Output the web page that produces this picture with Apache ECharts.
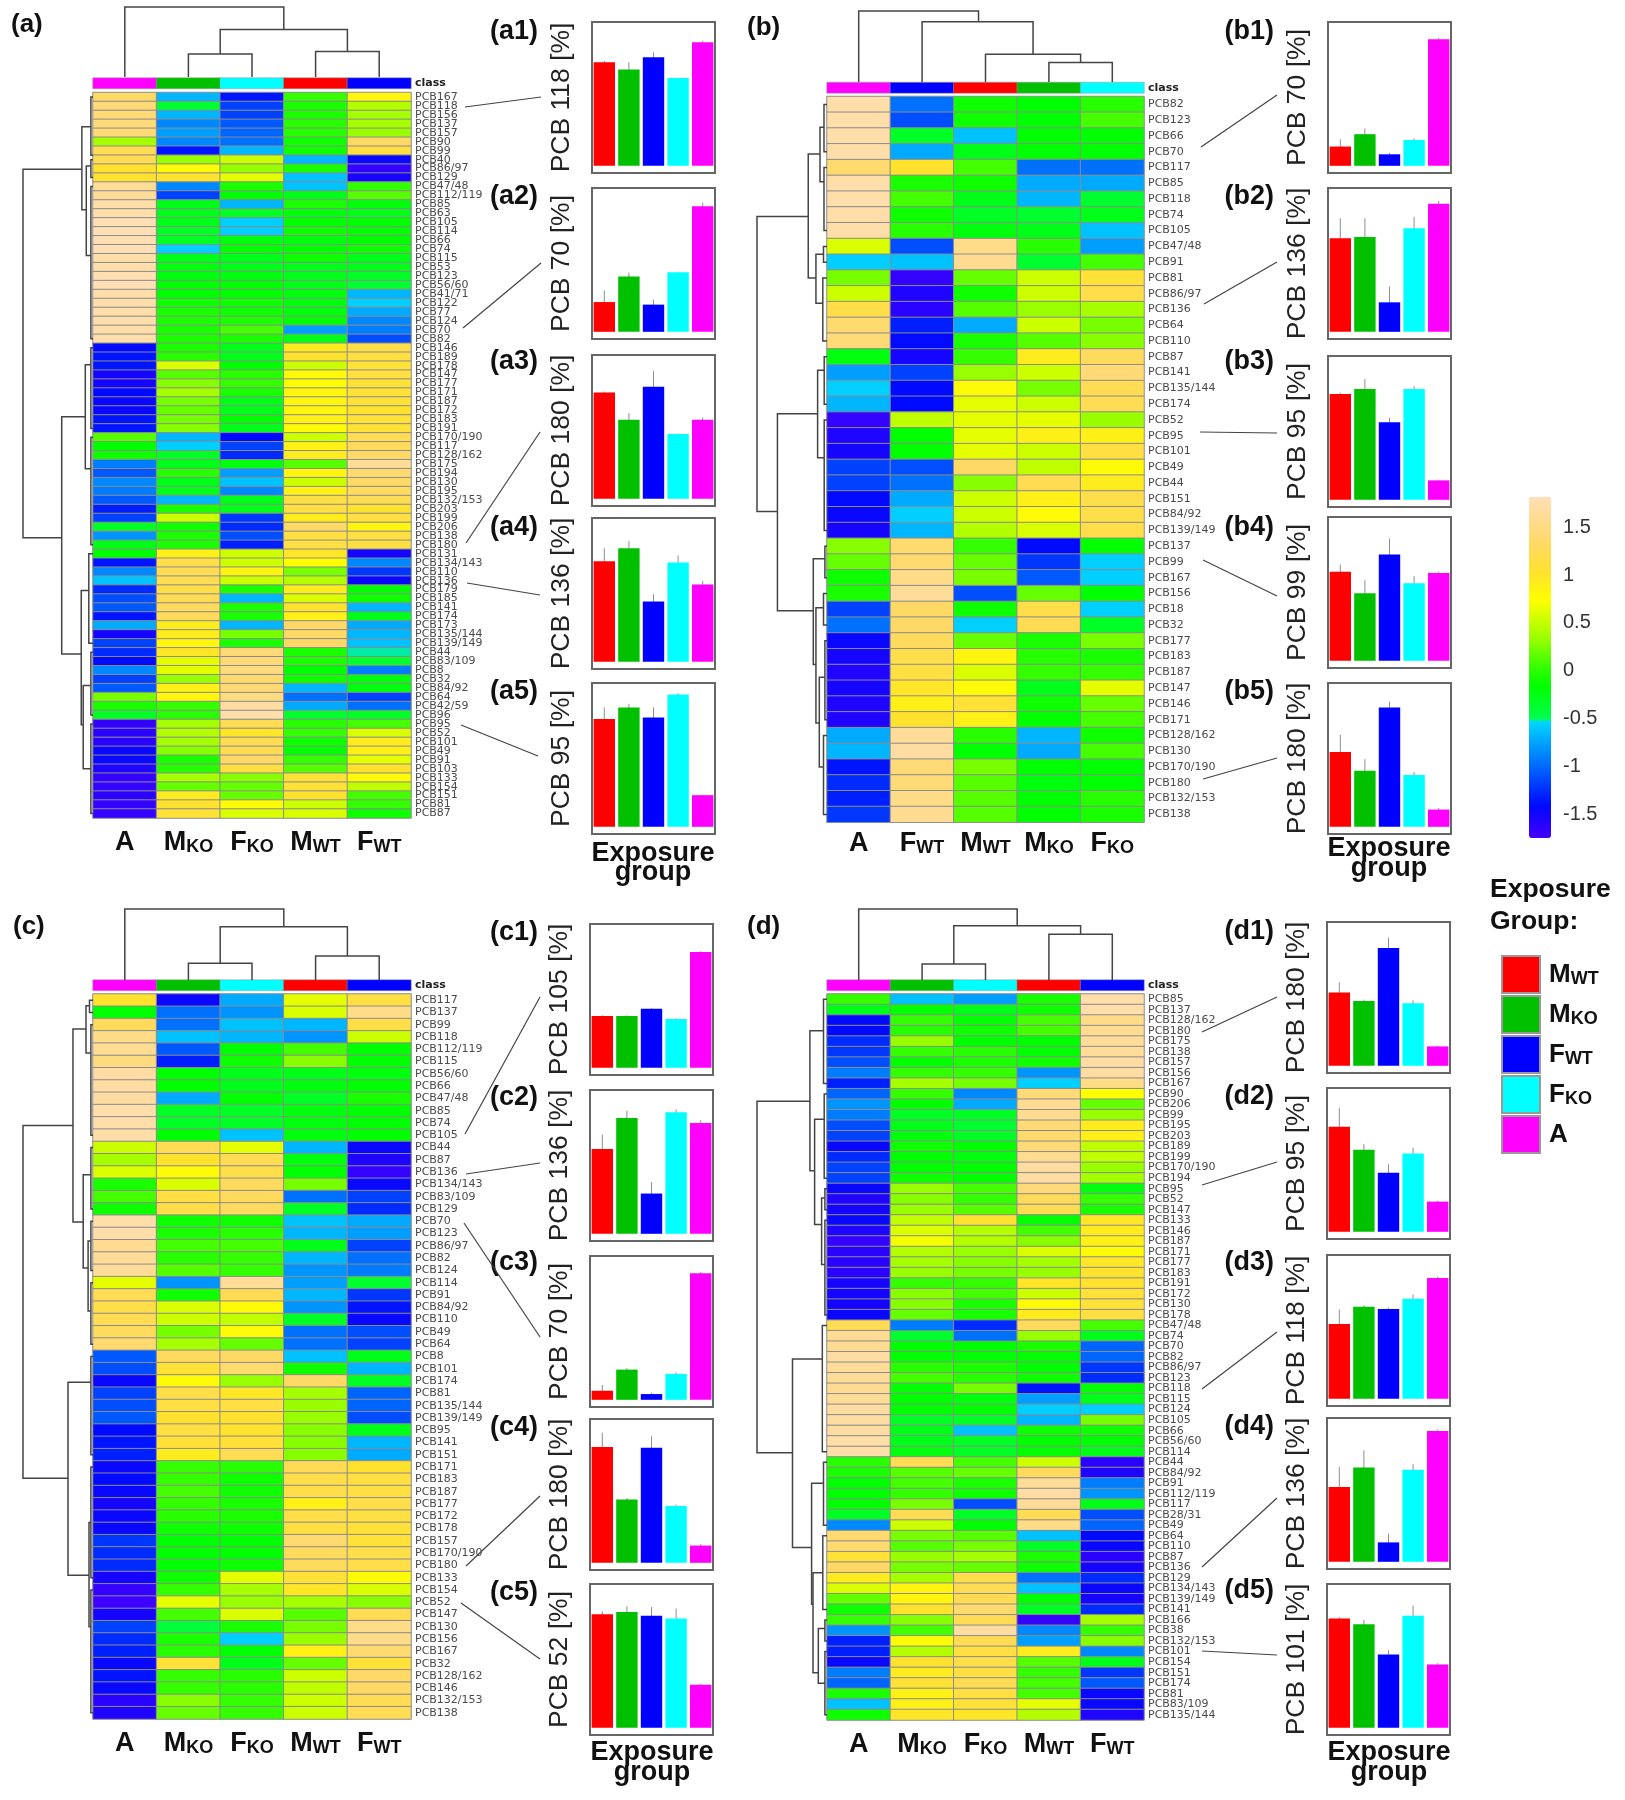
<!DOCTYPE html>
<html><head><meta charset="utf-8">
<style>html,body{margin:0;padding:0;background:#fff}#c{width:1625px;height:1800px}</style>
<script src="https://cdn.jsdelivr.net/npm/echarts@6/dist/echarts.min.js"></script>
</head><body><div id="c"></div>
<script>
// ---------- categories ----------
const barGroups = ['MWT','MKO','FWT','FKO','A'];
const groupColors = {MWT:'#ff0000',MKO:'#00c000',FWT:'#0000ff',FKO:'#00ffff',A:'#ff00ff'};
const colsA = ['A','MKO','FKO','MWT','FWT'];
const colsB = ['A','FWT','MWT','MKO','FKO'];
const colsC = ['A','MKO','FKO','MWT','FWT'];
const colsD = ['A','MKO','FKO','MWT','FWT'];

const rowsA = ['167','118','156','137','157','90','99','40','86/97','129','47/48','112/119','85','63','105','114','66','74','115','53','123','56/60','41/71','122','77','124','70','82','146','189','178','147','177','171','187','172','183','191','170/190','117','128/162','175','194','130','195','132/153','203','199','206','138','180','131','134/143','110','136','179','185','141','174','173','135/144','139/149','44','83/109','8','32','84/92','64','42/59','96','95','52','101','49','91','103','133','154','151','81','87'];
const rowsB = ['82','123','66','70','117','85','118','74','105','47/48','91','81','86/97','136','64','110','87','141','135/144','174','52','95','101','49','44','151','84/92','139/149','137','99','167','156','18','32','177','183','187','147','146','171','128/162','130','170/190','180','132/153','138'];
const rowsC = ['117','137','99','118','112/119','115','56/60','66','47/48','85','74','105','44','87','136','134/143','83/109','129','70','123','86/97','82','124','114','91','84/92','110','49','64','8','101','174','81','135/144','139/149','95','141','151','171','183','187','177','172','178','157','170/190','180','133','154','52','147','130','156','167','32','128/162','146','132/153','138'];
const rowsD = ['85','137','128/162','180','175','138','157','156','167','90','206','99','195','203','189','199','170/190','194','95','52','147','133','146','187','171','177','183','191','172','130','178','47/48','74','70','82','86/97','123','118','115','124','105','66','56/60','114','44','84/92','91','112/119','117','28/31','49','64','110','87','136','129','134/143','139/149','141','166','38','132/153','101','154','151','174','81','83/109','135/144'];

// ---------- heatmap values (row by row, columns as in cols*) ----------
const valuesA = [
[1.3,-.7,-1.4,0,.8],[1.4,-.4,-1.2,-.1,.4],[1.4,-.7,-1.2,-.1,.35],[1.4,-.9,-1.1,-.05,.35],[1.4,-.8,-1.05,-.05,.3],
[.35,-.9,-1,-.15,1.3],[1.2,-1.4,-.7,-.15,1.1],[1.2,.3,.5,-.7,-1.5],[1,.75,.3,-.1,-1.7],[1,1,.6,-.65,-1.55],
[1.6,-.9,-.1,-.65,0],[1.6,-1.2,-.2,-.3,.1],[1.7,-.3,-.7,-.1,-.25],[1.7,-.3,-.35,-.25,-.3],[1.75,-.3,-.6,-.2,-.2],
[1.75,-.35,-.6,-.15,-.2],[1.75,-.35,-.25,-.25,-.2],[1.75,-.6,-.2,-.2,-.15],[1.7,-.3,-.3,-.15,-.3],[1.7,-.25,-.3,-.3,-.3],
[1.75,-.25,-.25,-.3,-.35],[1.75,-.2,-.2,-.3,-.4],[1.7,-.2,-.2,-.25,-.7],[1.7,-.15,-.15,-.25,-.6],[1.7,-.1,-.15,-.25,-.75],
[1.7,-.1,-.1,-.2,-.9],[1.7,-.1,.05,-.8,-.95],[1.7,-.1,-.1,-.3,-1.15],[-1.45,-.1,-.3,.9,1.15],[-1.4,-.05,-.3,1,1.1],
[-1.4,.55,-.2,.5,1.05],[-1.55,.1,-.05,.75,1.1],[-1.55,.25,0,.7,1.05],[-1.45,.35,-.1,.8,1.05],[-1.5,.2,-.3,.8,1.05],
[-1.5,.15,-.3,.8,1],[-1.4,.2,-.2,.85,1.05],[-1.4,.25,-.3,.75,1.05],[.1,-.7,-1.45,.5,1.2],[-.2,-.6,-1.2,.85,1.25],
[-.15,-.35,-1.3,.9,1.3],[-.95,-.3,-.25,.1,1.6],[-1.1,-.05,-.8,.8,1.35],[-.9,-.3,-.65,.5,1.3],[-.95,-.3,-.9,.85,1.25],
[-1.1,-.7,-.3,1.1,1.2],[-1.35,-.1,-.3,1.1,1],[-1.2,.5,-1.25,.9,1.1],[-.35,-.15,-1.3,1.3,.8],[-.85,-.1,-1.15,1.1,1.1],
[-.3,-.1,-1.35,1.1,1.1],[-.2,.85,.5,.95,-1.55],[-1.4,1.15,.5,.7,-.9],[-.9,1.2,.8,.2,-1.25],[-.65,1.2,.5,.4,-1.5],
[-1.3,1.15,-.1,.9,-.2],[-1.15,1.2,-.7,.55,-.15],[-1.1,1.25,-.1,1,-.7],[-1.4,1.25,-.1,.85,-.3],[-.75,.9,-.7,1.3,-.75],
[-1.55,.9,.2,1.3,-.7],[-1.2,.8,-.1,1.3,-.65],[-1.3,.95,1.4,-.1,-.55],[-1.45,.6,1.4,-.1,-.4],[-.9,.6,1.45,-.2,-.95],
[-1.2,.3,1.35,-.15,-.25],[-1.1,.85,1.4,-.7,-.25],[.2,.8,1.45,-1,-1.2],[-.1,0,1.65,-.75,-1],[-.35,-.05,1.7,-.4,-.35],
[-1.7,.35,1.2,-.05,.05],[-1.65,.4,.95,0,.55],[-1.65,.35,1.2,-.15,.9],[-1.5,.25,1.2,-.2,.85],[-1.5,-.1,1.3,0,.6],
[-1.6,-.05,1.1,.1,1],[-1.7,.35,.25,1.05,.75],[-1.7,.15,.15,1.05,.45],[-1.65,.9,.15,1,.05],[-1.7,1,.75,.5,0],[-1.7,1.05,.55,.55,-.15]];
const valuesB = [
[1.7,-1,-.15,-.2,-.05],[1.7,-1.15,-.15,-.2,.05],[1.7,-.35,-.65,-.2,-.2],[1.7,-.75,-.3,-.2,-.2],[1.35,1,.05,-1,-1],
[1.7,-.1,-.15,-.75,-.75],[1.7,.05,-.3,-.7,-.4],[1.7,-.15,-.35,-.4,-.3],[1.7,-.05,-.25,-.3,-.65],[.55,-1.15,1.5,-.05,-.8],
[-.6,-.65,1.55,-.4,.05],[.2,-1.7,.15,.5,1.05],[.5,-1.6,-.15,.5,1.15],[1.15,-1.65,.1,.3,.35],[1.35,-1.35,-.75,.5,.2],
[1.4,-1.45,-.1,.1,.25],[-.25,-1.55,0,.9,1.25],[-.8,-1.2,.3,.5,1.4],[-.6,-1.45,.75,.2,1.2],[-.7,-1.45,.6,.5,1.2],
[-1.7,.45,.6,.6,.3],[-1.6,-.2,.6,.85,.85],[-1.55,-.2,.6,.5,1.1],[-1.2,-1.15,1.3,.45,.75],[-1.2,-1,.25,1.2,.9],
[-1.45,-.75,.5,.85,1.15],[-1.5,-.6,.5,.75,1.15],[-1.55,-.7,.4,.55,1.15],[.25,1.35,0,-1.45,-.2],[.15,1.35,.15,-1.25,-.6],
[-.15,1.5,.2,-1.1,-.6],[-.1,1.6,-1.15,.15,-.2],[-1.2,1.3,-.15,1.15,-.6],[-1,1.3,-.6,1.2,-.35],[-1.5,1.25,.15,-.1,.2],
[-1.55,1.15,.8,-.05,-.1],[-1.6,1.1,.55,0,0],[-1.55,.95,.75,-.3,.6],[-1.6,.85,1.05,-.15,.15],[-1.6,1,.85,-.2,.05],
[-.75,1.6,-.05,-.7,-.15],[-.7,1.65,-.2,-.75,.05],[-1.4,1.4,.2,-.2,-.2],[-1.3,1.4,.1,-.25,-.2],[-1.35,1.5,.1,-.2,-.05],[-1.25,1.55,.1,-.2,-.1]];
const valuesC = [
[1,-1.5,-.75,.6,1.1],[-.2,-1,-.85,.55,1.5],[1.25,-1,-.65,-.7,1.15],[1.5,-.65,-.7,-.85,.5],[1.55,-1.1,-.2,.05,-.2],
[1.45,-1.35,-.15,.25,-.2],[1.65,-.2,-.3,-.3,-.25],[1.65,-.2,-.3,-.25,-.2],[1.65,-.75,-.2,-.35,-.1],[1.7,-.35,-.35,-.25,-.2],
[1.7,-.35,-.35,-.25,-.2],[1.7,-.2,-.65,-.25,-.2],[.5,1.2,.6,-.7,-1.5],[.35,1,1.2,-.25,-1.6],[.55,.75,1.15,-.2,-1.7],
[-.1,.55,1.25,.2,-1.5],[.05,1.1,1.25,-1,-1.2],[-.15,1.15,1.25,-.35,-1.3],[1.7,-.15,-.15,-.65,-.75],[1.7,-.1,-.05,-.7,-.8],
[1.55,.05,.05,-.3,-1.2],[1.6,-.05,0,-.7,-1],[1.6,.1,0,-.85,-.95],[.6,-.85,1.6,-.8,-.4],[1.2,-.15,1.2,-.7,-1.25],
[1.15,.55,.75,-.85,-1.4],[1.2,.5,.45,-.35,-1.5],[1.25,.2,.75,-1,-1.15],[1.35,.35,.15,-1,-1.2],[-1.1,1.25,1.3,-.65,-.3],
[-1.15,1.05,1.35,-.15,-.7],[-1.5,.75,.3,1.3,-.35],[-1.2,1.15,.95,.35,-1.05],[-1.15,1.1,1.1,.3,-1.05],[-1.1,1,1,.3,-1.15],
[-1.45,1.1,1,.25,-.3],[-1.4,1.05,1.05,.25,-.7],[-1.35,.9,1.2,.25,-.75],[-1.5,0,-.05,1.2,1],[-1.45,0,-.15,1.15,1.1],
[-1.5,.05,-.15,1.15,1.1],[-1.55,0,-.1,.85,1.15],[-1.5,-.05,-.1,1.15,1.1],[-1.5,-.15,-.15,1.1,1.05],[-1.25,-.2,-.2,1.35,1.05],
[-1.3,-.2,-.2,1.25,1.15],[-1.3,-.2,-.15,1.25,1.15],[-1.55,-.15,.6,1.05,.75],[-1.7,0,.35,.95,.55],[-1.75,.6,.3,.35,.25],
[-1.55,.05,.55,.1,1.2],[-1.2,-.45,-.1,.2,1.5],[-1.3,-.1,-.6,.3,1.5],[-1.35,-.05,-.2,.85,1.35],[-1.5,1.05,-.3,.15,1.05],
[-1.4,0,-.05,.5,1.3],[-1.5,0,-.05,.45,1.3],[-1.65,.25,0,.5,1.2],[-1.6,.15,0,.5,1.2]];
const valuesD = [
[0,-.65,-.8,-.1,1.7],[-.3,-.2,-.3,-.15,1.7],[-1.45,0,-.2,.05,1.5],[-1.45,-.05,-.15,.05,1.55],[-1.3,.3,-.2,-.2,1.6],
[-1.25,0,-.05,-.2,1.6],[-1.15,-.2,-.1,-.15,1.65],[-.95,0,0,-.85,1.65],[-1.35,.35,.2,-.6,1.5],[-1.05,0,-.9,1.4,.7],
[-.85,-.2,-.75,1.55,.15],[-.95,-.35,-.35,1.55,.3],[-1.15,-.3,-.4,1.4,.9],[-1.2,-.25,-.35,1.35,.85],[-1.5,-.15,-.2,1.4,.45],
[-1.3,-.2,-.25,1.55,.45],[-1.2,-.2,-.2,1.65,.3],[-1.2,-.15,-.2,1.65,.35],[-1.5,.3,.05,1.4,-.25],[-1.6,.25,0,1.25,0],
[-1.55,.3,.1,1.2,-.1],[-1.5,.45,1,-.2,.95],[-1.6,.55,.4,.05,.9],[-1.7,.65,.4,.25,.85],[-1.65,.4,.3,.55,.75],
[-1.65,.35,.25,.35,.95],[-1.65,.3,.2,.3,1],[-1.55,0,0,.95,1],[-1.55,.25,.05,.5,1.05],[-1.55,.25,-.1,.75,1.05],
[-1.5,.15,-.1,.9,1.1],[1.2,-.95,-1.3,1.25,.05],[1.55,-.4,-1,.3,-.3],[1.55,-.2,-.2,-.1,-1.05],[1.65,-.2,-.2,-.2,-1.05],
[1.6,-.05,-.1,-.2,-1.25],[1.6,.05,-.05,-.15,-1.3],[1.55,-.2,.2,-1.4,-.2],[1.6,-.2,-.25,-.8,-.3],[1.65,-.2,-.2,-.6,-.6],
[1.65,-.35,-.35,-.7,.2],[1.65,-.3,-.65,-.15,-.15],[1.7,-.3,-.35,-.2,-.2],[1.7,-.25,-.35,-.2,-.3],[-.05,1.2,.05,.5,-1.65],
[-.1,.1,.15,1.25,-1.6],[-.2,.05,-.1,1.6,-.95],[-.2,0,-.15,1.65,-.85],[-.2,.2,-1.15,1.6,-.3],[-.35,1.2,-.35,1.2,-1.15],
[-.9,.5,-.2,1.5,-1.05],[1.35,.2,.1,-.65,-1.45],[1.35,.1,.2,-.35,-1.5],[1.05,.3,.35,-.1,-1.65],[1.3,.2,.15,-.15,-1.55],
[.9,.35,1.15,-1,-1.3],[.55,.8,1.2,-.65,-1.5],[.15,.8,1.2,-.2,-1.55],[-.15,1,1.35,-.35,-1.3],[0,.25,1.2,-1.7,.35],
[-.85,.05,1.65,-.9,0],[-1.35,.75,1.2,-.8,.25],[-1.35,.4,1.1,.9,-.9],[-1.5,1,1.15,.1,-.3],[-.95,.9,1.1,0,-1.25],
[-1.05,1.05,1.2,.05,-1.1],[-.1,.85,1.1,.05,-1.5],[-.65,.85,1.05,.6,-1.5],[-.15,.95,.95,.4,-1.6]];

// ---------- colour scale ----------
const scaleMin = -1.78, scaleMax = 1.78;
const scaleStops = [[-1.78,'#4400ff'],[-1.45,'#0008ff'],[-1,'#0070ff'],[-.56,'#00d8ff'],[-.54,'#00ff50'],[-.2,'#00ff00'],[0,'#33ff00'],[.3,'#99ff00'],[.5,'#ccff00'],[.7,'#ffff00'],[1,'#ffe22e'],[1.3,'#ffd966'],[1.78,'#ffdfb8']];

// ---------- dendrograms: [pos1,height1,pos2,height2,mergeHeight] ----------
const colTreeA = [[1.5,0,2.5,0,.33],[3.5,0,4.5,0,.363],[2,.33,4,.363,.68],[.5,0,3,.68,1]];
const colTreeB = [[3.5,0,4.5,0,.274],[2.5,0,4,.274,.39],[1.5,0,3.25,.39,.85],[.5,0,2.39,.85,1]];
const colTreeC = [[1.5,0,2.5,0,.235],[3.5,0,4.5,0,.338],[2,.235,4,.338,.75],[.5,0,3,.75,1]];
const colTreeD = [[1.5,0,2.5,0,.226],[3.5,0,4.5,0,.646],[2,.226,4,.646,.764],[.5,0,3,.764,1]];
const rowTreeA = [[8.56,.159,49.7,.447,1],[3.83,.03,13.1,.096,.159],[8.2,.03,18.2,.03,.096],[.5,0,7,0,.03],[7.5,0,9.5,0,.03],[10.5,0,27.5,0,.03],
 [36.2,.11,62.7,.168,.447],[30.4,.03,42,.03,.11],[28.5,0,37.5,0,.03],[38.5,0,50.5,0,.03],[55.6,.06,70.6,.14,.168],[51.5,0,61.5,0,.06],[66.2,.03,75.5,.03,.14],[62.5,0,69.5,0,.03],[70.5,0,80.5,0,.03]];
const rowTreeB = [[7.6,.268,26.3,.708,1],[3.64,.1,11.5,.158,.268],[1.95,.043,5.4,.043,.1],[.5,0,3.5,0,.043],[4.5,0,8.5,0,.043],[10,.05,13.1,.06,.158],[9.5,0,10.5,0,.05],[11.5,0,15.5,0,.06],
 [20.1,.134,32.6,.196,.708],[17.35,.04,22.9,.04,.134],[16.5,0,19.5,0,.04],[20.5,0,27.5,0,.04],[29.3,.03,36,.158,.196],[28.5,0,30.5,0,.03],[32.4,.05,39.7,.11,.158],[31.5,0,33.5,0,.05],[36.8,.03,42.5,.05,.11],[34.5,0,39.5,0,.03],[40.5,0,45.5,0,.05]];
const rowTreeC = [[10.7,.286,39.4,.357,1],[2.85,.1,18.55,.14,.286],[.95,.05,4.8,.03,.1],[.5,0,1.5,0,.05],[2.5,0,11.5,0,.03],[14.7,.03,22.3,.07,.14],[12.5,0,17.5,0,.03],[20.1,.03,25.8,.03,.07],[18.5,0,22.5,0,.03],[23.5,0,28.5,0,.03],
 [31.6,.03,47.3,.057,.357],[29.5,0,37.5,0,.03],[43,.03,51.5,.03,.057],[38.5,0,47.5,0,.03],[48.5,0,58.5,0,.03]];
const rowTreeD = [[10.2,.244,43.6,.493,1],[3.5,.05,16.8,.177,.244],[.5,0,8.5,0,.05],[11.9,.04,21.9,.077,.177],[9.5,0,17.5,0,.04],[19.4,.03,25.7,.03,.077],[18.5,0,20.5,0,.03],[21.5,0,30.5,0,.03],
 [34.7,.067,52.6,.22,.493],[31.5,0,43.5,0,.067],[46.5,.05,58,.2,.22],[44.5,0,50.5,0,.05],[55,.06,64.5,.124,.2],[51.5,0,58.5,0,.06],[60.3,.03,65.5,.03,.124],[59.5,0,61.5,0,.03],[62.5,0,68.5,0,.03]];

// ---------- bar panels: values in MWT,MKO,FWT,FKO,A order, with error sizes ----------
const barTitles = {a:['a1','a2','a3','a4','a5'],b:['b1','b2','b3','b4','b5'],c:['c1','c2','c3','c4','c5'],d:['d1','d2','d3','d4','d5']};
const barNames = {a:['PCB 118 [%]','PCB 70 [%]','PCB 180 [%]','PCB 136 [%]','PCB 95 [%]'],b:['PCB 70 [%]','PCB 136 [%]','PCB 95 [%]','PCB 99 [%]','PCB 180 [%]'],c:['PCB 105 [%]','PCB 136 [%]','PCB 70 [%]','PCB 180 [%]','PCB 52 [%]'],d:['PCB 180 [%]','PCB 95 [%]','PCB 118 [%]','PCB 136 [%]','PCB 101 [%]']};
const barsA = [[72,67,75.5,61,86],[20.7,38.5,18.9,41.5,87.3],[74,55,78,45,55],[70,79,42,69,53.7],[75,83,76,92,22]];
const errsA = [[1,5,3.5,.4,1],[8,2.5,3.5,.4,2.5],[.5,4.6,11,.5,1.5],[9,5,5,5,2.5],[8,2.5,7,.8,.4]];
const barsB = [[13.4,22,8,18,88],[65,66,20.5,72,89],[73.5,77,54,77,13.5],[62,47,74,54,61],[52,39,83,36,12]];
const errsB = [[5,4,1,1,1],[14,13,11,8,2],[1,7,3,2,.5],[5,9,11,5,1],[12,8,4,2,1]];
const barsC = [[36,36,41,34,80.5],[59,80.5,28,84.5,77],[6.3,21,4,18,88],[80.5,44,80,39.5,12],[79,80.5,78,76,30]];
const errsC = [[.5,.5,.5,.5,.5],[10,5,8,2,2],[4,1,1,1,1],[10,1,8,1,1],[2,4,6,7,.5]];
const barsD = [[51,45,82,43.5,13.5],[73,57,41,54.5,21],[52,64,62.5,69.5,84],[52,65.5,13.5,64,91],[76,72,51,78,44]];
const errsD = [[7,1,7,2,.5],[13,4,6,4,.5],[10,1,1,3,1],[14,12,6,4,1],[1,3,3,7,1]];

// ---------- annotation positions ----------
const BOLD = 'Liberation Sans', THIN = 'DejaVu Sans';
const panels = [
 {k:'a',cols:colsA,rows:rowsA,vals:valuesA,colTree:colTreeA,rowTree:rowTreeA,bars:barsA,errs:errsA,x:93,w:318,top:92.5,bot:818,clsTop:78,treeTop:7,treeBot:77,treeLeft:23,lblMargin:11,
  boxX:592,boxTops:[22,188,355,518,683],ttlX:538,ttlY:[32,197,362,528,692],lead:[[465,107,541,97],[463,328,541,263],[466,543,540,432],[467,583,540,595],[461,725,538,756]],expY:[854,873],expX:653,letter:[11,25]},
 {k:'b',cols:colsB,rows:rowsB,vals:valuesB,colTree:colTreeB,rowTree:rowTreeB,bars:barsB,errs:errsB,x:827,w:317,top:96.5,bot:822.3,clsTop:82.5,treeTop:11,treeBot:82,treeLeft:757,lblMargin:8,
  boxX:1328,boxTops:[22,188,356,517,683],ttlX:1274,ttlY:[32,197,362,528,692],lead:[[1201,147,1277,95],[1204,304,1277,262],[1200,432,1277,433],[1203,560,1277,596],[1203,779,1277,758]],expY:[849,869],expX:1389,letter:[747,28]},
 {k:'c',cols:colsC,rows:rowsC,vals:valuesC,colTree:colTreeC,rowTree:rowTreeC,bars:barsC,errs:errsC,x:93,w:318,top:994,bot:1719,clsTop:980,treeTop:909,treeBot:980,treeLeft:23,lblMargin:11,
  boxX:590,boxTops:[924,1090,1256,1419,1584],ttlX:538,ttlY:[933,1098,1263,1428,1593],lead:[[465,1134,540,997],[466,1174,540,1163],[464,1223,540,1337],[466,1566,540,1496],[461,1603,540,1659]],expY:[1753,1773],expX:652,letter:[13,927]},
 {k:'d',cols:colsD,rows:rowsD,vals:valuesD,colTree:colTreeD,rowTree:rowTreeD,bars:barsD,errs:errsD,x:827,w:317,top:994,bot:1720,clsTop:980,treeTop:909,treeBot:980,treeLeft:757,lblMargin:11,
  boxX:1327,boxTops:[922,1088,1255,1418,1584],ttlX:1274,ttlY:[932,1097,1263,1427,1591],lead:[[1202,1032,1277,997],[1202,1185,1277,1162],[1202,1389,1277,1332],[1202,1567,1277,1498],[1202,1651,1277,1655]],expY:[1753,1773],expX:1389,letter:[747,927]}
];

// ---------- option assembly ----------
const grids=[],xAxes=[],yAxes=[],series=[],graphics=[],heatIdx=[];
function addGrid(g,x,y){grids.push(g);const i=grids.length-1;xAxes.push(Object.assign({gridIndex:i},x));yAxes.push(Object.assign({gridIndex:i},y));return i;}
const hidden={axisLine:{show:false},axisTick:{show:false},axisLabel:{show:false},splitLine:{show:false}};
function hex(c){return [1,3,5].map(i=>parseInt(c.substr(i,2),16));}
const paletteSteps=[];for(let i=0;i<=178;i++)paletteSteps.push(scaleMin+(scaleMax-scaleMin)*i/178);
const palette=paletteSteps.map(v=>{
  let j=0;while(j<scaleStops.length-2&&v>scaleStops[j+1][0])j++;
  const [a,ca]=scaleStops[j],[b,cb]=scaleStops[j+1];const t=Math.max(0,Math.min(1,(v-a)/(b-a)));
  const A=hex(ca),B=hex(cb);return 'rgb('+A.map((n,k)=>Math.round(n+(B[k]-n)*t)).join(',')+')';
});
function colLabel(s){return s.length===1?'{m|'+s+'}':'{m|'+s[0]+'}{s|'+s.slice(1)+'}';}
const colRich={m:{fontFamily:BOLD,fontWeight:'bold',fontSize:27,color:'#111',verticalAlign:'bottom',lineHeight:27},s:{fontFamily:BOLD,fontWeight:'bold',fontSize:18,color:'#111',verticalAlign:'bottom',lineHeight:27}};
function treeItem(vertical){return function(p,api){
  const a=api.value(0),h1=api.value(1),b=api.value(2),h2=api.value(3),h=api.value(4);
  const pts=vertical?[[a,h1],[a,h],[b,h],[b,h2]]:[[h1,a],[h,a],[h,b],[h2,b]];
  return {type:'polyline',shape:{points:pts.map(q=>api.coord(q))},style:{fill:'none',stroke:'#444',lineWidth:1.5}};
};}
function errItem(p,api){
  const c=api.value(0),lo=api.value(1),hi=api.value(2);
  const P=api.coord([c,lo]),Q=api.coord([c,hi]);
  return {type:'line',shape:{x1:P[0],y1:P[1],x2:Q[0],y2:Q[1]},style:{stroke:'rgba(50,50,50,0.55)',lineWidth:1}};
}
function txt(x,y,t,size,weight,align){graphics.push({type:'text',x,y,style:{text:t,fontFamily:BOLD,fontSize:size,fontWeight:weight||'normal',fill:'#111',textAlign:align||'left',textVerticalAlign:'middle'},silent:true});}

panels.forEach(p=>{
  const N=p.rows.length;
  // heat grid
  let gi=addGrid({left:p.x,top:p.top,width:p.w,height:p.bot-p.top},
    {type:'category',data:p.cols,position:'bottom',axisLine:{show:false},axisTick:{show:false},splitLine:{show:false},
     axisLabel:{interval:0,margin:p.lblMargin,formatter:colLabel,rich:colRich}},
    {type:'category',inverse:true,position:'right',data:p.rows.map(r=>'PCB'+r),axisLine:{show:false},axisTick:{show:false},splitLine:{show:false},
     axisLabel:{interval:0,margin:4,padding:[2,0,0,0],fontFamily:THIN,fontSize:11,color:'#4a4a4a'}});
  const cells=[];p.vals.forEach((row,r)=>row.forEach((v,c)=>cells.push([c,r,v])));
  heatIdx.push(series.length);
  series.push({type:'heatmap',xAxisIndex:gi,yAxisIndex:gi,data:cells,itemStyle:{borderColor:'#8c8c8c',borderWidth:1},emphasis:{disabled:true},silent:true,progressive:0});
  // class strip
  gi=addGrid({left:p.x,top:p.clsTop,width:p.w,height:10.5},
    {type:'category',data:p.cols,...hidden},
    {type:'category',data:['class'],position:'right',axisLine:{show:false},axisTick:{show:false},splitLine:{show:false},
     axisLabel:{margin:4,fontFamily:THIN,fontWeight:'bold',fontSize:11,color:'#222'}});
  series.push({type:'heatmap',xAxisIndex:gi,yAxisIndex:gi,silent:true,emphasis:{disabled:true},
    data:p.cols.map((c,i)=>({value:[i,0,1],itemStyle:{color:groupColors[c],borderColor:'#999',borderWidth:.5}}))});
  // column dendrogram
  gi=addGrid({left:p.x,top:p.treeTop,width:p.w,height:p.treeBot-p.treeTop},{type:'value',min:0,max:5,...hidden},{type:'value',min:0,max:1,...hidden});
  series.push({type:'custom',xAxisIndex:gi,yAxisIndex:gi,silent:true,renderItem:treeItem(true),data:p.colTree});
  // row dendrogram
  gi=addGrid({left:p.treeLeft,top:p.top,width:p.x-p.treeLeft,height:p.bot-p.top},{type:'value',min:0,max:1,inverse:true,...hidden},{type:'value',min:0,max:N,inverse:true,...hidden});
  series.push({type:'custom',xAxisIndex:gi,yAxisIndex:gi,silent:true,renderItem:treeItem(false),data:p.rowTree});
  // bars
  p.bars.forEach((vals,b)=>{
    gi=addGrid({left:p.boxX,top:p.boxTops[b],width:123,height:151,show:true,borderColor:'#666',borderWidth:2,backgroundColor:'transparent'},
      {type:'category',data:barGroups,...hidden},
      {type:'value',min:-5,max:100,...hidden,name:barNames[p.k][b],nameLocation:'middle',nameRotate:90,nameGap:17,nameTextStyle:{fontFamily:BOLD,fontSize:26.5,color:'#222'}});
    series.push({type:'bar',xAxisIndex:gi,yAxisIndex:gi,silent:true,barCategoryGap:'13%',
      data:vals.map((v,i)=>({value:v,itemStyle:{color:groupColors[barGroups[i]]}}))});
    series.push({type:'custom',xAxisIndex:gi,yAxisIndex:gi,silent:true,renderItem:errItem,
      data:vals.map((v,i)=>[i,v-p.errs[b][i],v+p.errs[b][i]])});
    txt(p.ttlX,p.ttlY[b],'('+barTitles[p.k][b]+')',27,'bold','right');
    const L=p.lead[b];
    graphics.push({type:'line',silent:true,shape:{x1:L[0],y1:L[1],x2:L[2],y2:L[3]},style:{stroke:'#444',lineWidth:1.2}});
  });
  txt(p.letter[0],p.letter[1],'('+p.k+')',26,'bold');
  txt(p.expX,p.expY[0],'Exposure',27,'bold','center');
  txt(p.expX,p.expY[1],'group',27,'bold','center');
});
// colour-bar tick axis and legend carrier
const cbi=addGrid({left:1540,top:479.5,width:10,height:382.5},
  {type:'category',data:['c'],...hidden},
  {type:'value',min:-2,max:2,interval:.5,position:'right',axisLine:{show:false},axisTick:{show:false},splitLine:{show:false},
   axisLabel:{margin:13,fontFamily:BOLD,fontSize:20,color:'#333',formatter:v=>Math.abs(v)>1.9?'':String(v)}});
barGroups.forEach(g=>series.push({type:'bar',name:g,xAxisIndex:cbi,yAxisIndex:cbi,data:[],itemStyle:{color:groupColors[g]}}));
txt(1490,890,'Exposure',26.5,'bold');
txt(1490,922,'Group:',26.5,'bold');

const chart=echarts.init(document.getElementById('c'),null,{renderer:'canvas'});
chart.setOption({
  animation:false,backgroundColor:'#fff',
  grid:grids,xAxis:xAxes,yAxis:yAxes,series,
  graphic:graphics,
  visualMap:{type:'continuous',seriesIndex:heatIdx,dimension:2,min:scaleMin,max:scaleMax,inRange:{color:palette},
    show:true,left:1529,top:497,itemWidth:22,itemHeight:341,padding:0,calculable:false,hoverLink:false,text:null,showLabel:false,textStyle:{color:'transparent'}},
  legend:{data:barGroups,orient:'vertical',left:1501,top:955,itemWidth:38,itemHeight:37,itemGap:1,padding:0,icon:'rect',selectedMode:false,
    itemStyle:{borderColor:'#999',borderWidth:2},
    formatter:n=>colLabel(n),
    textStyle:{rich:{m:{fontFamily:BOLD,fontWeight:'bold',fontSize:26,color:'#111',verticalAlign:'bottom',lineHeight:27,padding:[0,0,0,4]},s:{fontFamily:BOLD,fontWeight:'bold',fontSize:18,color:'#111',verticalAlign:'bottom',lineHeight:27}}}}
});
</script></body></html>
